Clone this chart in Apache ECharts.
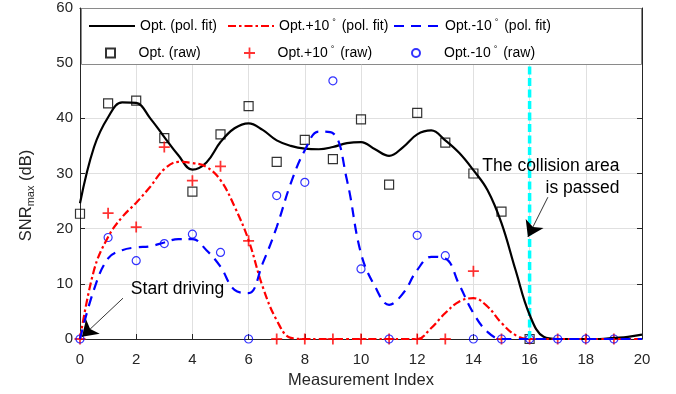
<!DOCTYPE html>
<html>
<head>
<meta charset="utf-8">
<script src="https://cdn.jsdelivr.net/npm/echarts@6/dist/echarts.min.js"></script>
<style>
  html, body { margin: 0; padding: 0; background: #fff; }
  #container { width: 676px; height: 394px; }
</style>
</head>
<body>
<div id="container"></div>
<script>
var dom = document.getElementById('container');
var myChart = echarts.init(dom, null, { renderer: 'canvas' });

// sample positions of the polynomial fits
const fitX = [0, 0.5, 1, 1.5, 2, 2.5, 3, 3.5, 4, 4.5, 5, 5.5, 6, 6.5, 7, 7.5, 8, 8.5, 9, 9.5,
  10, 10.5, 11, 11.5, 12, 12.5, 13, 13.5, 14, 14.5, 15, 15.5, 16, 16.5, 17, 17.5, 18, 18.5, 19, 19.5, 20];
const optFit = [24.6, 34.8, 40.2, 42.9, 42.8, 40.0, 36.6, 33.3, 30.7, 32.0, 35.7, 38.2, 39.1, 37.9, 36.0, 35.0, 34.5, 34.4, 34.8, 35.5,
  35.7, 34.4, 33.2, 34.8, 37.1, 37.8, 36.0, 33.7, 30.6, 27.0, 21.0, 12.5, 4.4, 0.4, 0, 0, 0, 0, 0.2, 0.4, 0.8];
const plusFit = [0, 12.5, 18.5, 22.1, 24.7, 27.6, 30.8, 32.1, 31.9, 31.2, 28.8, 24.0, 17.9, 9.5, 3.4, 0.2, 0, 0, 0, 0,
  0, 0, 0, 0, 0, 2.0, 4.7, 6.8, 7.4, 5.9, 2.9, 0.7, 0, 0, 0, 0, 0, 0, 0, 0, 0];
const minusFit = [0, 9.0, 14.6, 16.1, 16.6, 16.8, 17.5, 18.1, 18.1, 16.1, 13.1, 8.9, 8.3, 13.7, 20.3, 28.2, 34.2, 37.6, 37.3, 28.8,
  15.5, 9.5, 6.2, 8.3, 12.5, 14.9, 14.6, 9.8, 4.7, 1.3, 0, 0, 0, 0, 0, 0, 0, 0, 0, 0, 0];

// raw measurements
const optRawX = [0, 1, 2, 3, 4, 5, 6, 7, 8, 9, 10, 11, 12, 13, 14, 15, 16];
const optRaw = [22.7, 42.7, 43.2, 36.4, 26.7, 37.1, 42.2, 32.1, 36.1, 32.6, 39.8, 28.0, 41.0, 35.6, 30.0, 23.1, 0];
const rawX = [0, 1, 2, 3, 4, 5, 6, 7, 8, 9, 10, 11, 12, 13, 14, 15, 16, 17, 18, 19];
const plusRaw = [0, 22.8, 20.3, 34.8, 28.7, 31.3, 17.8, 0, 0, 0, 0, 0, 0, 0, 12.3, 0, 0, 0, 0, 0];
const minusRaw = [0, 18.4, 14.2, 17.3, 19.0, 15.7, 0, 26.0, 28.4, 46.8, 12.7, 0, 18.8, 15.1, 0, 0, 0, 0, 0, 0];

const collisionX = 16;

const names = ['Opt. (pol. fit)', 'Opt.+10° (pol. fit)', 'Opt.-10° (pol. fit)',
  'Opt. (raw)', 'Opt.+10° (raw)', 'Opt.-10° (raw)'];

function pairs(xs, ys) { return xs.map((x, i) => [x, ys[i]]); }

const FONT = 'Liberation Sans, Arial, Helvetica, sans-serif';
const AX = '#262626';
const SQUARE = 'path://M0,0h10v10h-10z';
const PLUS = 'path://M0,4.2h10v1.6h-10z M4.2,0h1.6v10h-1.6z';

function legendItem(name, left, top, h, isLine) {
  var l = {
    data: [name], left: left, top: top, orient: 'vertical',
    padding: 0, itemWidth: 46, itemHeight: h, itemGap: 0,
    selectedMode: false,
    formatter: n => n.replace('°', '{s|°}'),
    textStyle: {
      fontFamily: FONT, fontSize: 14, color: '#000', lineHeight: 16,
      rich: { s: { fontSize: 9, verticalAlign: 'top', lineHeight: 16, padding: [0, 2, 0, 3] } }
    }
  };
  if (isLine) {
    // hide the marker ECharts puts in the middle of a line icon
    l.itemStyle = { color: 'rgba(0,0,0,0)', borderColor: 'rgba(0,0,0,0)', borderWidth: 0 };
  }
  return l;
}

var option = {
  animation: false,
  textStyle: { fontFamily: FONT },
  grid: { left: 80, right: 34, top: 8, bottom: 55 },
  legend: [
    legendItem(names[0], 88, 18, 16, true),
    legendItem(names[1], 227, 18, 16, true),
    legendItem(names[2], 393, 18, 16, true),
    legendItem(names[3], 105, 45, 9),
    legendItem(names[4], 244, 45, 11),
    legendItem(names[5], 411, 45, 8)
  ],
  graphic: [{
    type: 'rect', left: 81, top: 8, z: 3,
    shape: { width: 560, height: 56 },
    style: { fill: '#fff', stroke: '#8a8a8a', lineWidth: 1 }
  }],
  xAxis: [{
    type: 'value', min: 0, max: 20, interval: 2, position: 'bottom',
    axisLine: { lineStyle: { color: AX, width: 1 } },
    axisTick: { inside: true, length: 5, lineStyle: { color: AX } },
    splitLine: { show: true, lineStyle: { color: '#e0e0e0', width: 1 } },
    axisLabel: { fontSize: 15, color: AX, margin: 13, fontFamily: FONT },
    name: 'Measurement Index', nameLocation: 'middle', nameGap: 33,
    nameTextStyle: { fontSize: 16.5, color: AX, fontFamily: FONT }
  }, {
    type: 'value', min: 0, max: 20, interval: 2, position: 'top',
    axisLine: { show: true, onZero: false, lineStyle: { color: AX, width: 1 } },
    axisTick: { show: true, inside: true, length: 5, lineStyle: { color: AX } },
    splitLine: { show: false }, axisLabel: { show: false }
  }],
  yAxis: [{
    type: 'value', min: 0, max: 60, interval: 10, position: 'left',
    axisLine: { show: true, lineStyle: { color: AX, width: 1 } },
    axisTick: { show: true, inside: true, length: 5, lineStyle: { color: AX } },
    splitLine: { show: true, lineStyle: { color: '#e0e0e0', width: 1 } },
    axisLabel: { fontSize: 15, color: AX, margin: 7, fontFamily: FONT },
    name: 'SNR{sub|max} (dB)', nameLocation: 'middle', nameGap: 44,
    nameTextStyle: {
      fontSize: 16.5, color: AX, fontFamily: FONT, padding: [0, 44, 0, 0],
      rich: { sub: { fontSize: 11, verticalAlign: 'bottom', lineHeight: 20, padding: [6, 0, 0, 0] } }
    }
  }, {
    type: 'value', min: 0, max: 60, interval: 10, position: 'right',
    axisLine: { show: true, onZero: false, lineStyle: { color: AX, width: 1 } },
    axisTick: { show: true, inside: true, length: 5, lineStyle: { color: AX } },
    splitLine: { show: false }, axisLabel: { show: false }
  }],
  series: [{
    name: names[0], type: 'line', smooth: 0.4, symbol: 'none', showSymbol: false,
    data: pairs(fitX, optFit),
    lineStyle: { color: '#000', width: 2.2, type: 'solid' },
    itemStyle: { color: '#000' }
  }, {
    name: names[1], type: 'line', smooth: 0.4, symbol: 'none', showSymbol: false,
    data: pairs(fitX, plusFit),
    lineStyle: { color: '#ff0000', width: 2.2, type: [8, 3, 2.5, 3] },
    itemStyle: { color: '#ff0000' }
  }, {
    name: names[2], type: 'line', smooth: 0.4, symbol: 'none', showSymbol: false,
    data: pairs(fitX, minusFit),
    lineStyle: { color: '#0000ff', width: 2.2, type: [10, 7] },
    itemStyle: { color: '#0000ff' }
  }, {
    name: names[3], type: 'scatter', symbol: SQUARE, symbolSize: 9,
    data: pairs(optRawX, optRaw),
    itemStyle: { color: 'rgba(0,0,0,0)', borderColor: '#000', borderWidth: 1.2 }
  }, {
    name: names[4], type: 'scatter', symbol: PLUS, symbolSize: 11,
    data: pairs(rawX, plusRaw),
    itemStyle: { color: '#ff0000' }
  }, {
    name: names[5], type: 'scatter', symbol: 'circle', symbolSize: 8,
    data: pairs(rawX, minusRaw),
    itemStyle: { color: 'rgba(0,0,0,0)', borderColor: '#0000ff', borderWidth: 1.2 }
  }, {
    type: 'line', symbol: 'none', silent: true, z: 2.5,
    data: [[collisionX, 0], [collisionX, 50]],
    lineStyle: { color: '#00ffff', width: 3.5, type: [8, 3.5] }
  }, {
    type: 'line', symbol: 'none', silent: true,
    data: [], lineStyle: { width: 0 },
    markLine: {
      silent: true, symbol: ['none', 'arrow'], symbolSize: 15,
      label: { show: false },
      lineStyle: { color: '#000', width: 0.8, type: 'solid' },
      data: [
        [{ coord: [1.53, 7.4] }, { coord: [0.07, 0.4] }],
        [{ coord: [16.65, 25.7] }, { coord: [15.94, 18.5] }]
      ]
    },
    markPoint: {
      silent: true, symbol: 'circle', symbolSize: 0,
      label: { show: true, color: '#000', fontSize: 17.5, fontFamily: FONT, formatter: p => p.name },
      data: [
        { name: 'Start driving', coord: [1.81, 9.0], label: { position: 'right', distance: 0 } },
        { name: 'The collision area\nis passed', coord: [19.2, 29.3],
          label: { position: 'left', distance: 0, align: 'right', lineHeight: 22 } }
      ]
    }
  }]
};

myChart.setOption(option);
window.addEventListener('resize', myChart.resize);
</script>
</body>
</html>
